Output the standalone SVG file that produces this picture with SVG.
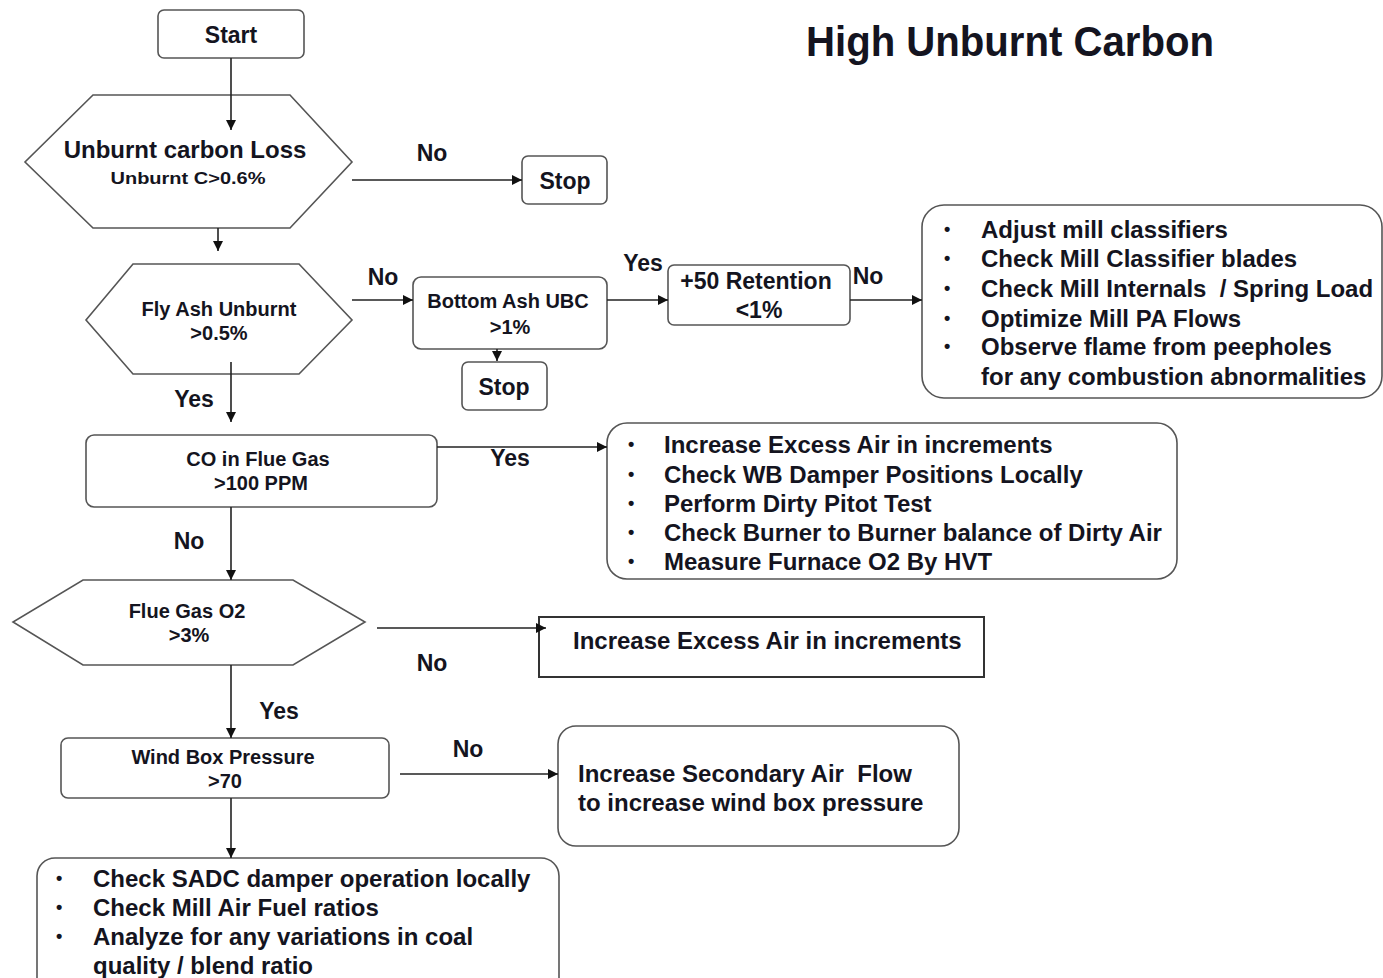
<svg xmlns="http://www.w3.org/2000/svg" width="1383" height="978" viewBox="0 0 1383 978">
<defs>
<marker id="ah" viewBox="0 0 10 10" refX="10" refY="5" markerWidth="10" markerHeight="10" markerUnits="userSpaceOnUse" orient="auto">
<path d="M0,0 L10,5 L0,10 z" fill="#111"/>
</marker>
<style>
.box{fill:#fff;stroke:#555;stroke-width:1.6}
.sq{fill:#fff;stroke:#333;stroke-width:2}
.ln{fill:none;stroke:#222;stroke-width:1.6;marker-end:url(#ah)}
text{font-family:"Liberation Sans",Arial,sans-serif;font-weight:bold;fill:#141420;dominant-baseline:central}
.big{font-size:24px}
.sm{font-size:20px}
.lbl{font-size:23px}
.c{text-anchor:middle}
.bul{font-size:18px}
</style>
</defs>
<rect width="1383" height="978" fill="#fff"/>

<text id="title" x="806" y="41" font-size="42" textLength="408" lengthAdjust="spacingAndGlyphs">High Unburnt Carbon</text>

<g id="start">
<rect class="box" x="158" y="10" width="146" height="48" rx="6"/>
<text class="lbl c" x="231" y="35">Start</text>
</g>

<g id="unburnt-loss">
<polygon class="box" points="93,95 290,95 352,162 290,228 93,228 25,162"/>
<text class="big c" x="185" y="149">Unburnt carbon Loss</text>
<text class="c" x="188" y="178" font-size="17" textLength="155" lengthAdjust="spacingAndGlyphs">Unburnt C&gt;0.6%</text>
</g>

<g id="stop1">
<rect class="box" x="522" y="156" width="85" height="48" rx="6"/>
<text class="lbl c" x="565" y="181">Stop</text>
</g>

<g id="fly-ash">
<polygon class="box" points="133,264 299,264 352,320 299,374 133,374 86,320"/>
<text class="sm c" x="219" y="309">Fly Ash Unburnt</text>
<text class="sm c" x="219" y="333">&gt;0.5%</text>
</g>

<g id="bottom-ash">
<rect class="box" x="413" y="277" width="194" height="72" rx="8"/>
<text class="sm c" x="508" y="301">Bottom Ash UBC</text>
<text class="sm c" x="510" y="327">&gt;1%</text>
</g>

<g id="stop2">
<rect class="box" x="462" y="362" width="85" height="48" rx="6"/>
<text class="lbl c" x="504" y="387">Stop</text>
</g>

<g id="retention">
<rect class="box" x="668" y="265" width="182" height="60" rx="6"/>
<text class="lbl c" x="756" y="281">+50 Retention</text>
<text class="lbl c" x="759" y="310">&lt;1%</text>
</g>

<g id="mill-actions">
<rect class="box" x="922" y="205" width="460" height="193" rx="22"/>
<text class="bul" x="944" y="229">•</text>
<text class="bul" x="944" y="258">•</text>
<text class="bul" x="944" y="288">•</text>
<text class="bul" x="944" y="318">•</text>
<text class="bul" x="944" y="346">•</text>
<text class="big" x="981" y="229">Adjust mill classifiers</text>
<text class="big" x="981" y="258">Check Mill Classifier blades</text>
<text class="big" x="981" y="288" xml:space="preserve">Check Mill Internals  / Spring Load</text>
<text class="big" x="981" y="318">Optimize Mill PA Flows</text>
<text class="big" x="981" y="346">Observe flame from peepholes</text>
<text class="big" x="981" y="376">for any combustion abnormalities</text>
</g>

<g id="co-flue">
<rect class="box" x="86" y="435" width="351" height="72" rx="8"/>
<text class="sm c" x="258" y="459">CO in Flue Gas</text>
<text class="sm c" x="261" y="483">&gt;100 PPM</text>
</g>

<g id="co-actions">
<rect class="box" x="607" y="423" width="570" height="156" rx="20"/>
<text class="bul" x="628" y="444">•</text>
<text class="bul" x="628" y="474">•</text>
<text class="bul" x="628" y="503">•</text>
<text class="bul" x="628" y="532">•</text>
<text class="bul" x="628" y="561">•</text>
<text class="big" x="664" y="444">Increase Excess Air in increments</text>
<text class="big" x="664" y="474">Check WB Damper Positions Locally</text>
<text class="big" x="664" y="503">Perform Dirty Pitot Test</text>
<text class="big" x="664" y="532">Check Burner to Burner balance of Dirty Air</text>
<text class="big" x="664" y="561">Measure Furnace O2 By HVT</text>
</g>

<g id="flue-o2">
<polygon class="box" points="83,580 293,580 365,622 293,665 83,665 13,622"/>
<text class="sm c" x="187" y="611">Flue Gas O2</text>
<text class="sm c" x="189" y="635">&gt;3%</text>
</g>

<g id="excess-air">
<rect class="sq" x="539" y="617" width="445" height="60"/>
<text class="big" x="573" y="640">Increase Excess Air in increments</text>
</g>

<g id="wind-box">
<rect class="box" x="61" y="738" width="328" height="60" rx="7"/>
<text class="sm c" x="223" y="757">Wind Box Pressure</text>
<text class="sm c" x="225" y="781">&gt;70</text>
</g>

<g id="secondary-air">
<rect class="box" x="558" y="726" width="401" height="120" rx="18"/>
<text class="big" x="578" y="773" xml:space="preserve">Increase Secondary Air  Flow</text>
<text class="big" x="578" y="802">to increase wind box pressure</text>
</g>

<g id="final-actions">
<rect class="box" x="37" y="858" width="522" height="140" rx="18"/>
<text class="bul" x="56" y="878">•</text>
<text class="bul" x="56" y="907">•</text>
<text class="bul" x="56" y="936">•</text>
<text class="big" x="93" y="878">Check SADC damper operation locally</text>
<text class="big" x="93" y="907">Check Mill Air Fuel ratios</text>
<text class="big" x="93" y="936">Analyze for any variations in coal</text>
<text class="big" x="93" y="965">quality / blend ratio</text>
</g>

<g id="connectors">
<path class="ln" d="M231,58 V130"/>
<path class="ln" d="M352,180 H522"/>
<path class="ln" d="M218,228 V251"/>
<path class="ln" d="M352,300 H413"/>
<path class="ln" d="M497,349 V361"/>
<path class="ln" d="M607,300 H668"/>
<path class="ln" d="M850,300 H922"/>
<path class="ln" d="M231,362 V422"/>
<path class="ln" d="M437,447 H607"/>
<path class="ln" d="M231,507 V580"/>
<path class="ln" d="M377,628 H546"/>
<path class="ln" d="M231,665 V738"/>
<path class="ln" d="M400,774 H558"/>
<path class="ln" d="M231,798 V858"/>
<text class="lbl c" x="432" y="153">No</text>
<text class="lbl c" x="383" y="277">No</text>
<text class="lbl c" x="643" y="263">Yes</text>
<text class="lbl c" x="868" y="276">No</text>
<text class="lbl c" x="194" y="399">Yes</text>
<text class="lbl c" x="510" y="458">Yes</text>
<text class="lbl c" x="189" y="541">No</text>
<text class="lbl c" x="432" y="663">No</text>
<text class="lbl c" x="279" y="711">Yes</text>
<text class="lbl c" x="468" y="749">No</text>
</g>
</svg>
